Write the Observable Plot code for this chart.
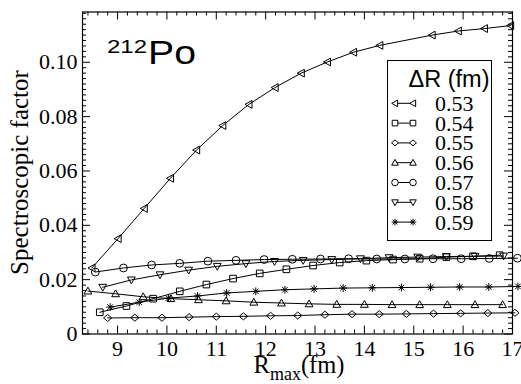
<!DOCTYPE html>
<html><head><meta charset="utf-8">
<script src="https://cdn.jsdelivr.net/npm/d3@7"></script>
<script src="https://cdn.jsdelivr.net/npm/@observablehq/plot@0.6"></script>
<style>body{margin:0;background:#fff}#chart{width:521px;height:384px}
#chart svg text.serif, #chart svg .serif text{font-family:"Liberation Serif", "Times New Roman", serif}
#chart svg text.sans{font-family:"Liberation Sans", Arial, sans-serif}
</style>
</head><body><div id="chart"></div>
<script>
const seriesNames = ["0.53","0.54","0.55","0.56","0.57","0.58","0.59"];
const x053 = [8.48, 9.01, 9.54, 10.07, 10.60, 11.13, 11.66, 12.19, 12.72, 13.25, 13.78, 14.31, 15.37, 15.90, 16.43, 16.96];
const y053 = [0.0243, 0.0351, 0.0462, 0.0573, 0.0677, 0.0767, 0.0845, 0.0907, 0.0960, 0.1001, 0.1037, 0.1062, 0.1100, 0.1115, 0.1124, 0.1135];
const x054 = [8.64, 9.18, 9.72, 10.26, 10.80, 11.34, 11.88, 12.42, 12.96, 13.50, 14.04, 14.58, 15.12, 15.66, 16.20, 16.74];
const y054 = [0.0080, 0.0103, 0.0130, 0.0157, 0.0182, 0.0204, 0.0223, 0.0238, 0.0252, 0.0263, 0.0270, 0.0274, 0.0277, 0.0283, 0.0286, 0.0290];
const x055 = [8.80, 9.35, 9.90, 10.45, 11.00, 11.55, 12.10, 12.65, 13.20, 13.75, 14.30, 14.85, 15.40, 15.95, 16.50, 17.05];
const y055 = [0.0059, 0.0060, 0.0060, 0.0062, 0.0064, 0.0065, 0.0067, 0.0068, 0.0071, 0.0073, 0.0073, 0.0074, 0.0075, 0.0076, 0.0077, 0.0078];
const x056 = [8.40, 8.96, 9.52, 10.08, 10.64, 11.20, 11.76, 12.32, 12.88, 13.44, 14.00, 14.56, 15.12, 15.68, 16.24, 16.80];
const y056 = [0.0158, 0.0148, 0.0137, 0.0130, 0.0126, 0.0122, 0.0117, 0.0114, 0.0111, 0.0109, 0.0109, 0.0108, 0.0108, 0.0108, 0.0108, 0.0108];
const x057 = [8.55, 9.12, 9.69, 10.26, 10.83, 11.40, 11.97, 12.54, 13.11, 13.68, 14.25, 14.82, 15.39, 15.96, 16.53, 17.10];
const y057 = [0.0228, 0.0243, 0.0254, 0.0260, 0.0268, 0.0271, 0.0274, 0.0275, 0.0276, 0.0277, 0.0276, 0.0276, 0.0277, 0.0277, 0.0278, 0.0279];
const x058 = [8.70, 9.28, 9.86, 10.44, 11.02, 11.60, 12.18, 12.76, 13.34, 13.92, 14.50, 15.08, 15.66, 16.24, 16.82];
const y058 = [0.0172, 0.0199, 0.0218, 0.0235, 0.0249, 0.0259, 0.0267, 0.0271, 0.0274, 0.0277, 0.0281, 0.0283, 0.0285, 0.0286, 0.0287];
const x059 = [8.85, 9.44, 10.03, 10.62, 11.21, 11.80, 12.39, 12.98, 13.57, 14.16, 14.75, 15.34, 15.93, 16.52, 17.11];
const y059 = [0.0099, 0.0117, 0.0132, 0.0140, 0.0151, 0.0157, 0.0163, 0.0166, 0.0169, 0.0170, 0.0171, 0.0172, 0.0173, 0.0173, 0.0175];
const xTicks = [9, 10, 11, 12, 13, 14, 15, 16, 17];
const yTicks = [0, 0.02, 0.04, 0.06, 0.08, 0.10];

// symbols (xmgrace style)
const sym = {
  triLeft: {draw(c, s){const r=Math.sqrt(s/Math.PI); c.moveTo(-r,0); c.lineTo(r*0.8,-r); c.lineTo(r*0.8,r); c.closePath();}},
  square: {draw(c, s){const r=Math.sqrt(s/Math.PI)*0.85; c.moveTo(-r,-r); c.lineTo(r,-r); c.lineTo(r,r); c.lineTo(-r,r); c.closePath();}},
  diamond: {draw(c, s){const r=Math.sqrt(s/Math.PI); c.moveTo(-r*1.05,0); c.lineTo(0,-r*0.9); c.lineTo(r*1.05,0); c.lineTo(0,r*0.9); c.closePath();}},
  triUp: {draw(c, s){const r=Math.sqrt(s/Math.PI); c.moveTo(0,-r); c.lineTo(r,r*0.75); c.lineTo(-r,r*0.75); c.closePath();}},
  circle: {draw(c, s){const r=Math.sqrt(s/Math.PI); c.moveTo(r,0); c.arc(0,0,r,0,2*Math.PI);}},
  triDown: {draw(c, s){const r=Math.sqrt(s/Math.PI); c.moveTo(0,r); c.lineTo(r,-r*0.75); c.lineTo(-r,-r*0.75); c.closePath();}},
  star: {draw(c, s){const r=Math.sqrt(s/Math.PI); const d=r*0.72; c.moveTo(-r,0); c.lineTo(r,0); c.moveTo(0,-r); c.lineTo(0,r); c.moveTo(-d,-d); c.lineTo(d,d); c.moveTo(-d,d); c.lineTo(d,-d);}}
};
const symList = [sym.triLeft, sym.square, sym.diamond, sym.triUp, sym.circle, sym.triDown, sym.star];
const xs = [x053, x054, x055, x056, x057, x058, x059];
const ys = [y053, y054, y055, y056, y057, y058, y059];
const series = seriesNames.map((name, i) => xs[i].map((x, j) => ({name, x, y: ys[i][j]})));

const W = 521, H = 384, mL = 82, mR = 9, mT = 11.5, mB = 50.5;
const iW = W - mL - mR, iH = H - mT - mB;
const xMinor = d3.range(8.4, 17.0001, 0.2).filter(v => Math.abs(v - Math.round(v)) > 1e-6);
const yMinor = d3.range(0, 0.1185, 0.002).filter(v => Math.abs(v/0.02 - Math.round(v/0.02)) > 1e-6);
const SERIF = "Liberation Serif";
const SANS = "Liberation Sans";

const marks = [];
series.forEach((data, i) => {
  marks.push(Plot.line(data, {x: "x", y: "y", stroke: "black", strokeWidth: 1}));
});
series.forEach((data, i) => {
  marks.push(Plot.dot(data, {x: "x", y: "y", symbol: symList[i], r: 3.9, stroke: "black", strokeWidth: 1, fill: "none"}));
});
marks.push(
  Plot.tickX(xTicks, {x: d => d, insetTop: iH - 8, stroke: "black"}),
  Plot.tickX(xTicks, {x: d => d, insetBottom: iH - 8, stroke: "black"}),
  Plot.tickX(xMinor, {x: d => d, insetTop: iH - 4, stroke: "black"}),
  Plot.tickX(xMinor, {x: d => d, insetBottom: iH - 4, stroke: "black"}),
  Plot.tickY(yTicks, {y: d => d, insetRight: iW - 8, stroke: "black"}),
  Plot.tickY(yTicks, {y: d => d, insetLeft: iW - 8, stroke: "black"}),
  Plot.tickY(yMinor, {y: d => d, insetRight: iW - 4, stroke: "black"}),
  Plot.tickY(yMinor, {y: d => d, insetLeft: iW - 4, stroke: "black"}),
  Plot.frame({stroke: "black", strokeWidth: 1.2}),
  Plot.axisX(xTicks, {className: "serif", tickSize: 0, tickPadding: 6, fontSize: 22, fontFamily: SERIF, label: null, tickFormat: d => String(d)}),
  Plot.axisY(yTicks, {className: "serif", tickSize: 0, tickPadding: 5, fontSize: 22, fontFamily: SERIF, label: null, tickFormat: d => d === 0 ? "0" : d.toFixed(2)})
);

const chart = Plot.plot({
  width: W, height: H,
  marginLeft: mL, marginRight: mR, marginTop: mT, marginBottom: mB,
  style: {background: "white", color: "black", overflow: "visible"},
  x: {domain: [8.29, 17]},
  y: {domain: [0, 0.1185]},
  marks
});
document.getElementById("chart").appendChild(chart);
d3.select(chart).selectAll("g[aria-label='x-axis tick label'] text, g[aria-label='y-axis tick label'] text").classed("serif", true);

const svg = d3.select(chart);
// y axis title
svg.append("text").attr("class", "serif").attr("transform", "translate(28,172.5) rotate(-90)")
  .attr("text-anchor", "middle").attr("font-family", SERIF).attr("font-size", 25).attr("fill", "black")
  .text("Spectroscopic factor");
// x axis title
const xt = svg.append("text").attr("class", "serif").attr("x", 299).attr("y", 373).attr("text-anchor", "middle")
  .attr("font-family", SERIF).attr("font-size", 24.5).attr("fill", "black");
xt.append("tspan").text("R");
xt.append("tspan").attr("font-size", 18).attr("dy", 7).text("max");
xt.append("tspan").attr("dy", -7).text("(fm)");
// nucleus label
svg.append("text").attr("class", "sans").attr("x", 107).attr("y", 53).attr("text-anchor", "start")
  .attr("font-family", SANS).attr("font-size", 18).attr("fill", "black")
  .attr("textLength", 40).attr("lengthAdjust", "spacingAndGlyphs").text("212");
svg.append("text").attr("class", "sans").attr("x", 148).attr("y", 63.5).attr("text-anchor", "start")
  .attr("font-family", SANS).attr("font-size", 33).attr("fill", "black")
  .attr("textLength", 48).attr("lengthAdjust", "spacingAndGlyphs").text("Po");
// legend
const lg = svg.append("g");
lg.append("rect").attr("x", 387.5).attr("y", 60.5).attr("width", 104).attr("height", 180)
  .attr("fill", "white").attr("stroke", "black").attr("stroke-width", 1);
lg.append("text").attr("class", "sans").attr("x", 449).attr("y", 87).attr("text-anchor", "middle")
  .attr("font-family", SANS).attr("font-size", 23.5).attr("fill", "black").text("ΔR (fm)");
seriesNames.forEach((name, i) => {
  const cy = 103.3 + i * 19.8;
  lg.append("line").attr("x1", 395).attr("x2", 413).attr("y1", cy).attr("y2", cy).attr("stroke", "black");
  [395, 413].forEach(cx => {
    lg.append("path").attr("d", d3.symbol(symList[i], Math.PI * 3.3 * 3.3)()).attr("transform", `translate(${cx},${cy})`)
      .attr("fill", "white").attr("stroke", "black").attr("stroke-width", 1);
  });
  lg.append("text").attr("class", "serif").attr("x", 435).attr("y", cy + 7.5).attr("text-anchor", "start")
    .attr("font-family", SERIF).attr("font-size", 22)
    .attr("fill", "black").text(name);
});
</script>
</body></html>
